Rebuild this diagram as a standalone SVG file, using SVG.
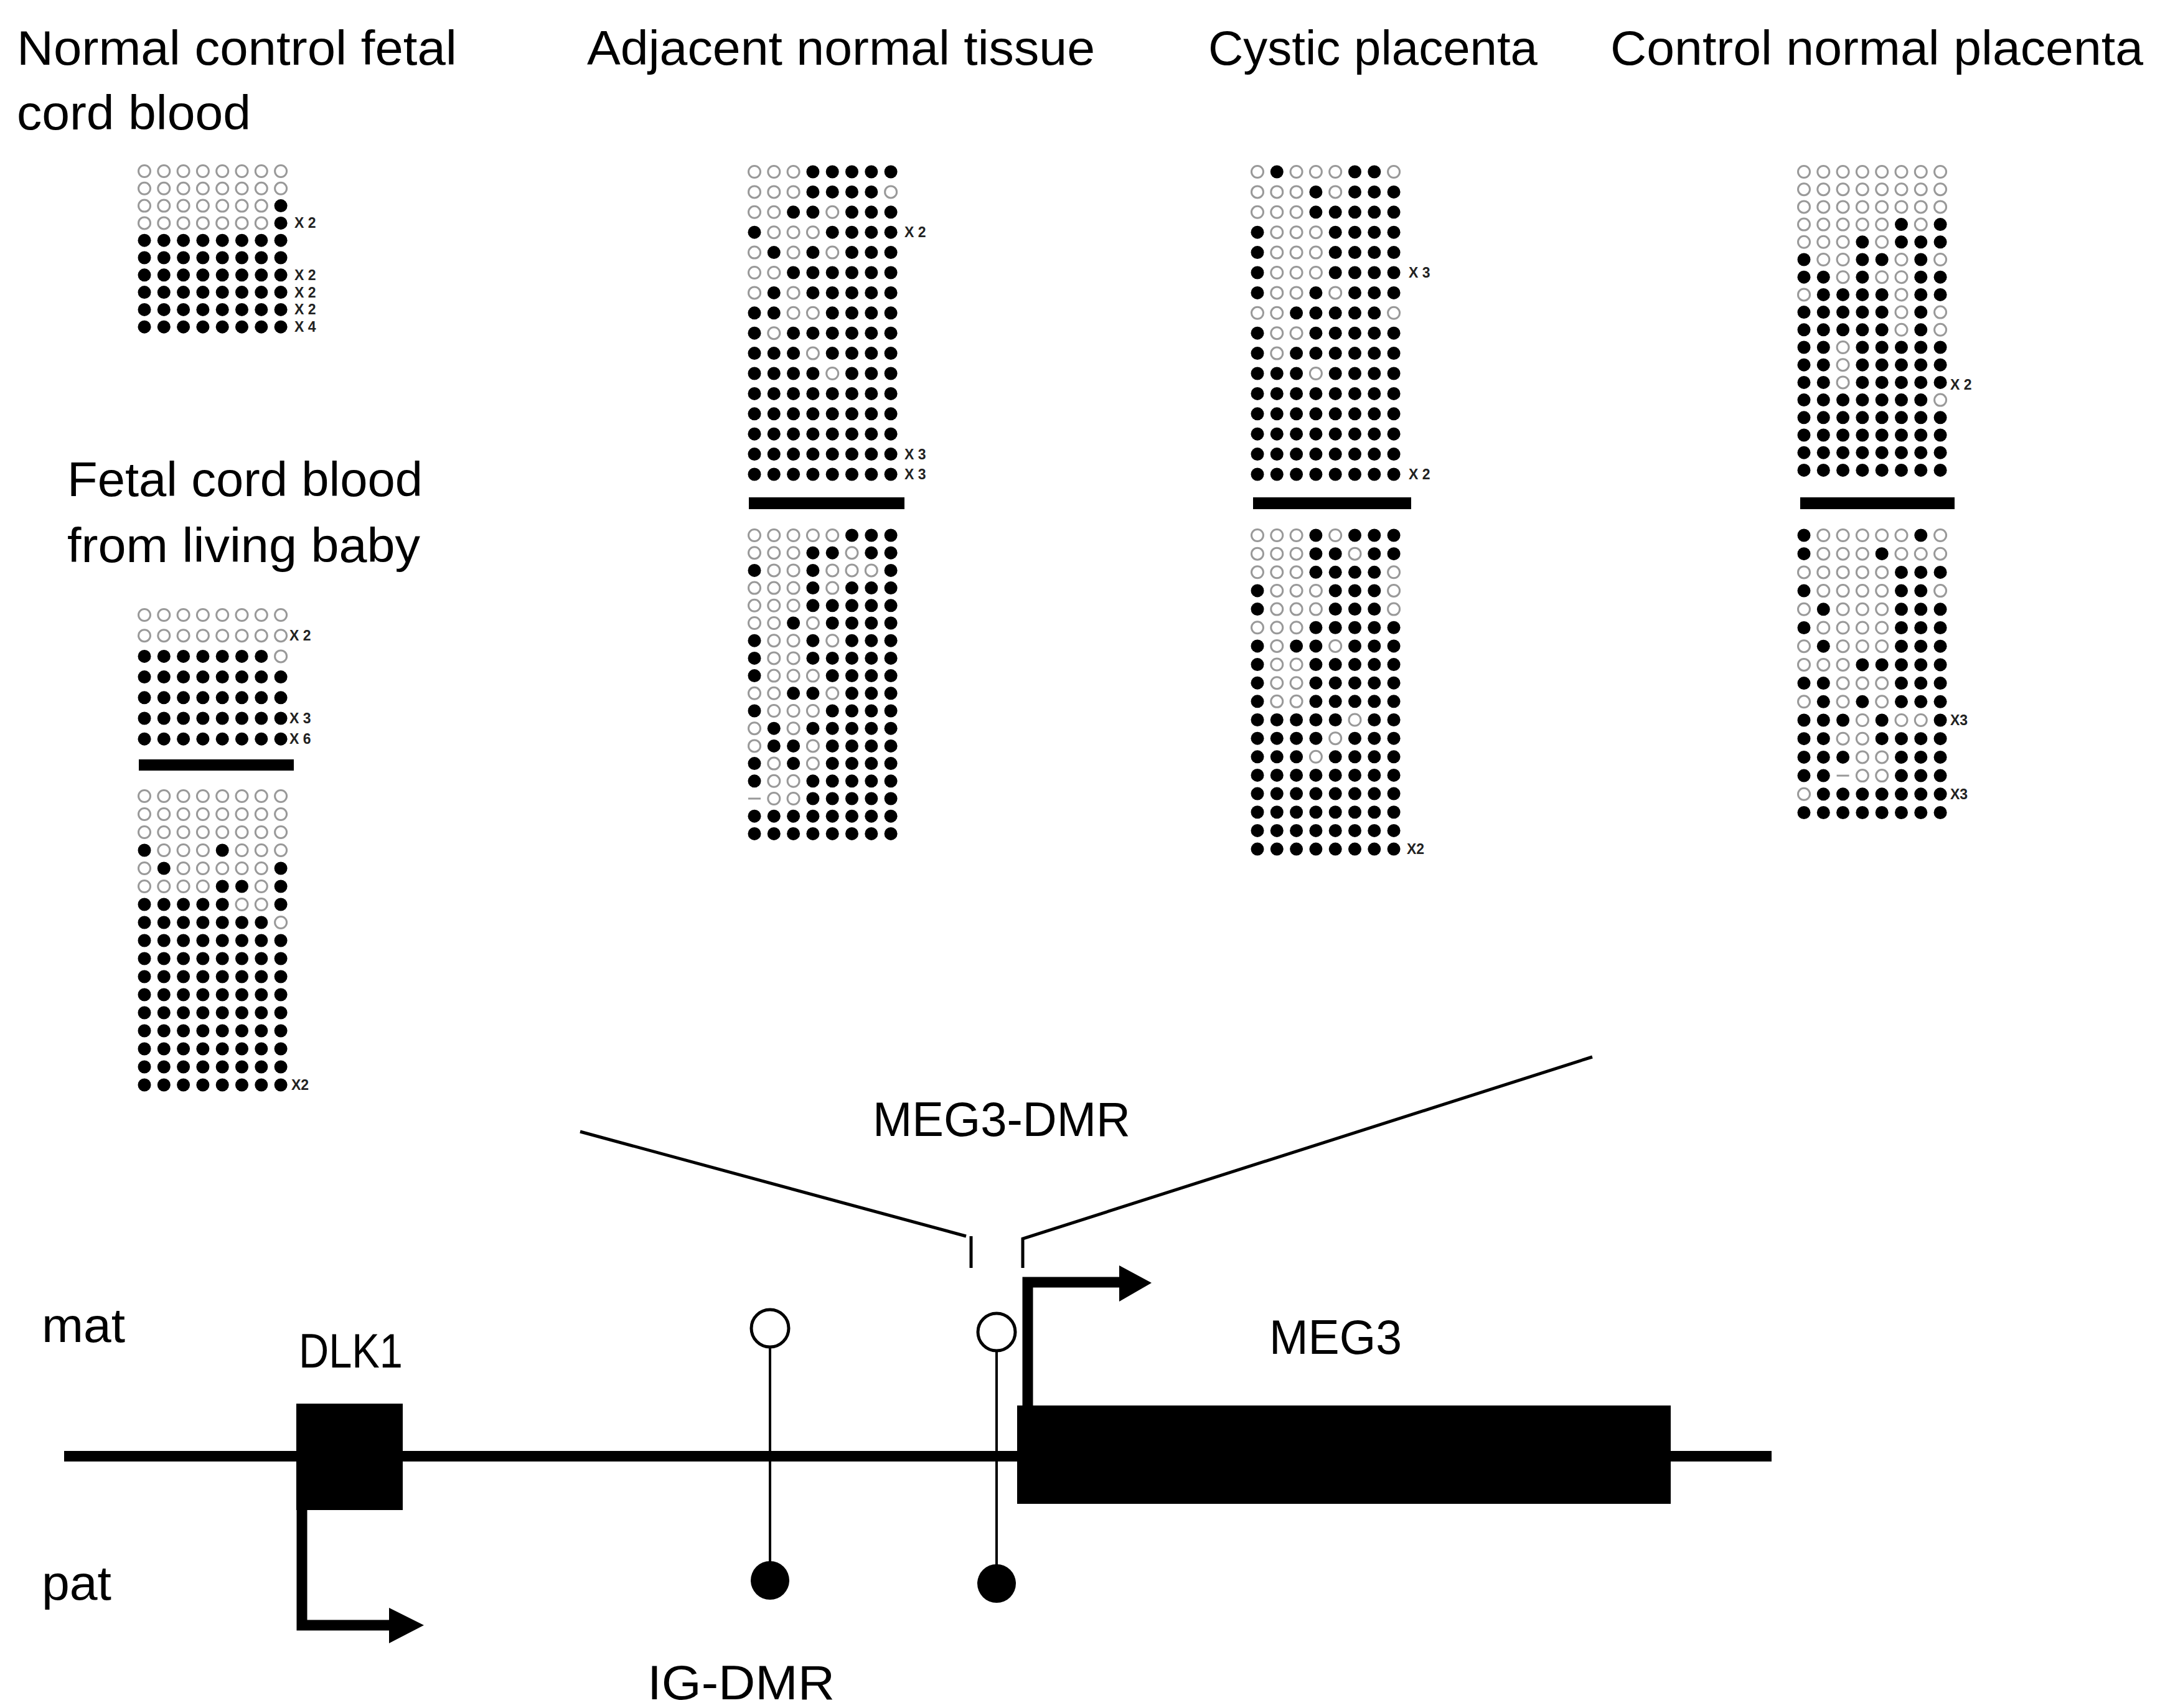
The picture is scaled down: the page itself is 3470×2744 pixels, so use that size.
<svg xmlns="http://www.w3.org/2000/svg" xmlns:xlink="http://www.w3.org/1999/xlink" width="3470" height="2744" viewBox="0 0 3470 2744">
<style>
.t{font-family:"Liberation Sans",Arial,sans-serif;font-size:78px;fill:#000}
.x{font-family:"Liberation Sans",Arial,sans-serif;font-size:23px;font-weight:bold;fill:#222}
.ln{stroke:#000;fill:none}
.d{stroke:#999;stroke-width:3}
</style>
<defs>
<circle id="f" r="10.5" fill="#000"/>
<circle id="o" r="9.5" fill="#fff" stroke="#999" stroke-width="3"/>
<use id="f0" href="#f" x="0"/><use id="f1" href="#f" x="31.3"/><use id="f2" href="#f" x="62.6"/><use id="f3" href="#f" x="93.9"/><use id="f4" href="#f" x="125.2"/><use id="f5" href="#f" x="156.5"/><use id="f6" href="#f" x="187.8"/><use id="f7" href="#f" x="219.1"/>
<use id="o0" href="#o" x="0"/><use id="o1" href="#o" x="31.3"/><use id="o2" href="#o" x="62.6"/><use id="o3" href="#o" x="93.9"/><use id="o4" href="#o" x="125.2"/><use id="o5" href="#o" x="156.5"/><use id="o6" href="#o" x="187.8"/><use id="o7" href="#o" x="219.1"/>
<g id="F"><use href="#f0"/><use href="#f1"/><use href="#f2"/><use href="#f3"/><use href="#f4"/><use href="#f5"/><use href="#f6"/><use href="#f7"/></g>
<g id="O"><use href="#o0"/><use href="#o1"/><use href="#o2"/><use href="#o3"/><use href="#o4"/><use href="#o5"/><use href="#o6"/><use href="#o7"/></g>
</defs>
<rect width="3470" height="2744" fill="#fff"/>

<g id="titles">
<text class="t" x="27" y="104" textLength="707" lengthAdjust="spacingAndGlyphs">Normal control fetal</text>
<text class="t" x="27" y="208" textLength="376" lengthAdjust="spacingAndGlyphs">cord blood</text>
<text class="t" x="943" y="104" textLength="816" lengthAdjust="spacingAndGlyphs">Adjacent normal tissue</text>
<text class="t" x="1941" y="104" textLength="529" lengthAdjust="spacingAndGlyphs">Cystic placenta</text>
<text class="t" x="2587" y="104" textLength="856" lengthAdjust="spacingAndGlyphs">Control normal placenta</text>
<text class="t" x="108" y="797" textLength="571" lengthAdjust="spacingAndGlyphs">Fetal cord blood</text>
<text class="t" x="108" y="903" textLength="567" lengthAdjust="spacingAndGlyphs">from living baby</text>
</g>

<g id="block-normal-control">
<use href="#O" x="232" y="275"/><use href="#O" x="232" y="302.8"/>
<g transform="translate(232,330.6)"><use href="#o0"/><use href="#o1"/><use href="#o2"/><use href="#o3"/><use href="#o4"/><use href="#o5"/><use href="#o6"/><use href="#f7"/></g>
<g transform="translate(232,358.4)"><use href="#o0"/><use href="#o1"/><use href="#o2"/><use href="#o3"/><use href="#o4"/><use href="#o5"/><use href="#o6"/><use href="#f7"/></g>
<use href="#F" x="232" y="386.2"/><use href="#F" x="232" y="414"/><use href="#F" x="232" y="441.8"/><use href="#F" x="232" y="469.6"/><use href="#F" x="232" y="497.4"/><use href="#F" x="232" y="525.2"/>
<text class="x" x="473" y="366.4">X 2</text><text class="x" x="473" y="449.8">X 2</text><text class="x" x="473" y="477.6">X 2</text><text class="x" x="473" y="505.4">X 2</text><text class="x" x="473" y="533.2">X 4</text>
</g>

<g id="block-living-baby">
<use href="#O" x="232" y="988"/><use href="#O" x="232" y="1021.2"/>
<g transform="translate(232,1054.4)"><use href="#f0"/><use href="#f1"/><use href="#f2"/><use href="#f3"/><use href="#f4"/><use href="#f5"/><use href="#f6"/><use href="#o7"/></g>
<use href="#F" x="232" y="1087.6"/><use href="#F" x="232" y="1120.8"/><use href="#F" x="232" y="1154"/><use href="#F" x="232" y="1187.2"/>
<text class="x" x="465" y="1029.2">X 2</text><text class="x" x="465" y="1162">X 3</text><text class="x" x="465" y="1195.2">X 6</text>
<rect x="223" y="1220" width="249" height="18" fill="#000"/>
<use href="#O" x="232" y="1279"/><use href="#O" x="232" y="1308"/><use href="#O" x="232" y="1337"/>
<g transform="translate(232,1366)"><use href="#f0"/><use href="#o1"/><use href="#o2"/><use href="#o3"/><use href="#f4"/><use href="#o5"/><use href="#o6"/><use href="#o7"/></g>
<g transform="translate(232,1395)"><use href="#o0"/><use href="#f1"/><use href="#o2"/><use href="#o3"/><use href="#o4"/><use href="#o5"/><use href="#o6"/><use href="#f7"/></g>
<g transform="translate(232,1424)"><use href="#o0"/><use href="#o1"/><use href="#o2"/><use href="#o3"/><use href="#f4"/><use href="#f5"/><use href="#o6"/><use href="#f7"/></g>
<g transform="translate(232,1453)"><use href="#f0"/><use href="#f1"/><use href="#f2"/><use href="#f3"/><use href="#f4"/><use href="#o5"/><use href="#o6"/><use href="#f7"/></g>
<g transform="translate(232,1482)"><use href="#f0"/><use href="#f1"/><use href="#f2"/><use href="#f3"/><use href="#f4"/><use href="#f5"/><use href="#f6"/><use href="#o7"/></g>
<use href="#F" x="232" y="1511"/><use href="#F" x="232" y="1540"/><use href="#F" x="232" y="1569"/><use href="#F" x="232" y="1598"/><use href="#F" x="232" y="1627"/><use href="#F" x="232" y="1656"/><use href="#F" x="232" y="1685"/><use href="#F" x="232" y="1714"/><use href="#F" x="232" y="1743"/>
<text class="x" x="468" y="1751">X2</text>
</g>

<g id="block-adjacent">
<g transform="translate(1212,276)"><use href="#o0"/><use href="#o1"/><use href="#o2"/><use href="#f3"/><use href="#f4"/><use href="#f5"/><use href="#f6"/><use href="#f7"/></g>
<g transform="translate(1212,308.4)"><use href="#o0"/><use href="#o1"/><use href="#o2"/><use href="#f3"/><use href="#f4"/><use href="#f5"/><use href="#f6"/><use href="#o7"/></g>
<g transform="translate(1212,340.8)"><use href="#o0"/><use href="#o1"/><use href="#f2"/><use href="#f3"/><use href="#o4"/><use href="#f5"/><use href="#f6"/><use href="#f7"/></g>
<g transform="translate(1212,373.2)"><use href="#f0"/><use href="#o1"/><use href="#o2"/><use href="#o3"/><use href="#f4"/><use href="#f5"/><use href="#f6"/><use href="#f7"/></g>
<g transform="translate(1212,405.6)"><use href="#o0"/><use href="#f1"/><use href="#o2"/><use href="#f3"/><use href="#o4"/><use href="#f5"/><use href="#f6"/><use href="#f7"/></g>
<g transform="translate(1212,438)"><use href="#o0"/><use href="#o1"/><use href="#f2"/><use href="#f3"/><use href="#f4"/><use href="#f5"/><use href="#f6"/><use href="#f7"/></g>
<g transform="translate(1212,470.4)"><use href="#o0"/><use href="#f1"/><use href="#o2"/><use href="#f3"/><use href="#f4"/><use href="#f5"/><use href="#f6"/><use href="#f7"/></g>
<g transform="translate(1212,502.8)"><use href="#f0"/><use href="#f1"/><use href="#o2"/><use href="#o3"/><use href="#f4"/><use href="#f5"/><use href="#f6"/><use href="#f7"/></g>
<g transform="translate(1212,535.2)"><use href="#f0"/><use href="#o1"/><use href="#f2"/><use href="#f3"/><use href="#f4"/><use href="#f5"/><use href="#f6"/><use href="#f7"/></g>
<g transform="translate(1212,567.6)"><use href="#f0"/><use href="#f1"/><use href="#f2"/><use href="#o3"/><use href="#f4"/><use href="#f5"/><use href="#f6"/><use href="#f7"/></g>
<g transform="translate(1212,600)"><use href="#f0"/><use href="#f1"/><use href="#f2"/><use href="#f3"/><use href="#o4"/><use href="#f5"/><use href="#f6"/><use href="#f7"/></g>
<use href="#F" x="1212" y="632.4"/><use href="#F" x="1212" y="664.8"/><use href="#F" x="1212" y="697.2"/><use href="#F" x="1212" y="729.6"/><use href="#F" x="1212" y="762"/>
<text class="x" x="1453" y="381.2">X 2</text><text class="x" x="1453" y="737.6">X 3</text><text class="x" x="1453" y="770">X 3</text>
<rect x="1203" y="799" width="250" height="19" fill="#000"/>
<g transform="translate(1212,860)"><use href="#o0"/><use href="#o1"/><use href="#o2"/><use href="#o3"/><use href="#o4"/><use href="#f5"/><use href="#f6"/><use href="#f7"/></g>
<g transform="translate(1212,888.2)"><use href="#o0"/><use href="#o1"/><use href="#o2"/><use href="#f3"/><use href="#f4"/><use href="#o5"/><use href="#f6"/><use href="#f7"/></g>
<g transform="translate(1212,916.4)"><use href="#f0"/><use href="#o1"/><use href="#o2"/><use href="#f3"/><use href="#o4"/><use href="#o5"/><use href="#o6"/><use href="#f7"/></g>
<g transform="translate(1212,944.6)"><use href="#o0"/><use href="#o1"/><use href="#o2"/><use href="#f3"/><use href="#o4"/><use href="#f5"/><use href="#f6"/><use href="#f7"/></g>
<g transform="translate(1212,972.8)"><use href="#o0"/><use href="#o1"/><use href="#o2"/><use href="#f3"/><use href="#f4"/><use href="#f5"/><use href="#f6"/><use href="#f7"/></g>
<g transform="translate(1212,1001)"><use href="#o0"/><use href="#o1"/><use href="#f2"/><use href="#o3"/><use href="#f4"/><use href="#f5"/><use href="#f6"/><use href="#f7"/></g>
<g transform="translate(1212,1029.2)"><use href="#f0"/><use href="#o1"/><use href="#o2"/><use href="#f3"/><use href="#o4"/><use href="#f5"/><use href="#f6"/><use href="#f7"/></g>
<g transform="translate(1212,1057.4)"><use href="#f0"/><use href="#o1"/><use href="#o2"/><use href="#f3"/><use href="#f4"/><use href="#f5"/><use href="#f6"/><use href="#f7"/></g>
<g transform="translate(1212,1085.6)"><use href="#f0"/><use href="#o1"/><use href="#o2"/><use href="#o3"/><use href="#f4"/><use href="#f5"/><use href="#f6"/><use href="#f7"/></g>
<g transform="translate(1212,1113.8)"><use href="#o0"/><use href="#o1"/><use href="#f2"/><use href="#f3"/><use href="#o4"/><use href="#f5"/><use href="#f6"/><use href="#f7"/></g>
<g transform="translate(1212,1142)"><use href="#f0"/><use href="#o1"/><use href="#o2"/><use href="#o3"/><use href="#f4"/><use href="#f5"/><use href="#f6"/><use href="#f7"/></g>
<g transform="translate(1212,1170.2)"><use href="#o0"/><use href="#f1"/><use href="#o2"/><use href="#f3"/><use href="#f4"/><use href="#f5"/><use href="#f6"/><use href="#f7"/></g>
<g transform="translate(1212,1198.4)"><use href="#o0"/><use href="#f1"/><use href="#f2"/><use href="#o3"/><use href="#f4"/><use href="#f5"/><use href="#f6"/><use href="#f7"/></g>
<g transform="translate(1212,1226.6)"><use href="#f0"/><use href="#o1"/><use href="#f2"/><use href="#o3"/><use href="#f4"/><use href="#f5"/><use href="#f6"/><use href="#f7"/></g>
<g transform="translate(1212,1254.8)"><use href="#f0"/><use href="#o1"/><use href="#o2"/><use href="#f3"/><use href="#f4"/><use href="#f5"/><use href="#f6"/><use href="#f7"/></g>
<g transform="translate(1212,1283)"><line class="d" x1="-10" y1="0" x2="10" y2="0"/><use href="#o1"/><use href="#o2"/><use href="#f3"/><use href="#f4"/><use href="#f5"/><use href="#f6"/><use href="#f7"/></g>
<use href="#F" x="1212" y="1311.2"/><use href="#F" x="1212" y="1339.4"/>
</g>

<g id="block-cystic">
<g transform="translate(2020,276)"><use href="#o0"/><use href="#f1"/><use href="#o2"/><use href="#o3"/><use href="#o4"/><use href="#f5"/><use href="#f6"/><use href="#o7"/></g>
<g transform="translate(2020,308.4)"><use href="#o0"/><use href="#o1"/><use href="#o2"/><use href="#f3"/><use href="#o4"/><use href="#f5"/><use href="#f6"/><use href="#f7"/></g>
<g transform="translate(2020,340.8)"><use href="#o0"/><use href="#o1"/><use href="#o2"/><use href="#f3"/><use href="#f4"/><use href="#f5"/><use href="#f6"/><use href="#f7"/></g>
<g transform="translate(2020,373.2)"><use href="#f0"/><use href="#o1"/><use href="#o2"/><use href="#o3"/><use href="#f4"/><use href="#f5"/><use href="#f6"/><use href="#f7"/></g>
<g transform="translate(2020,405.6)"><use href="#f0"/><use href="#o1"/><use href="#o2"/><use href="#o3"/><use href="#f4"/><use href="#f5"/><use href="#f6"/><use href="#f7"/></g>
<g transform="translate(2020,438)"><use href="#f0"/><use href="#o1"/><use href="#o2"/><use href="#o3"/><use href="#f4"/><use href="#f5"/><use href="#f6"/><use href="#f7"/></g>
<g transform="translate(2020,470.4)"><use href="#f0"/><use href="#o1"/><use href="#o2"/><use href="#f3"/><use href="#o4"/><use href="#f5"/><use href="#f6"/><use href="#f7"/></g>
<g transform="translate(2020,502.8)"><use href="#o0"/><use href="#o1"/><use href="#f2"/><use href="#f3"/><use href="#f4"/><use href="#f5"/><use href="#f6"/><use href="#o7"/></g>
<g transform="translate(2020,535.2)"><use href="#f0"/><use href="#o1"/><use href="#o2"/><use href="#f3"/><use href="#f4"/><use href="#f5"/><use href="#f6"/><use href="#f7"/></g>
<g transform="translate(2020,567.6)"><use href="#f0"/><use href="#o1"/><use href="#f2"/><use href="#f3"/><use href="#f4"/><use href="#f5"/><use href="#f6"/><use href="#f7"/></g>
<g transform="translate(2020,600)"><use href="#f0"/><use href="#f1"/><use href="#f2"/><use href="#o3"/><use href="#f4"/><use href="#f5"/><use href="#f6"/><use href="#f7"/></g>
<use href="#F" x="2020" y="632.4"/><use href="#F" x="2020" y="664.8"/><use href="#F" x="2020" y="697.2"/><use href="#F" x="2020" y="729.6"/><use href="#F" x="2020" y="762"/>
<text class="x" x="2263" y="446">X 3</text><text class="x" x="2263" y="770">X 2</text>
<rect x="2013" y="799" width="254" height="19" fill="#000"/>
<g transform="translate(2020,860)"><use href="#o0"/><use href="#o1"/><use href="#o2"/><use href="#f3"/><use href="#o4"/><use href="#f5"/><use href="#f6"/><use href="#f7"/></g>
<g transform="translate(2020,889.65)"><use href="#o0"/><use href="#o1"/><use href="#o2"/><use href="#f3"/><use href="#f4"/><use href="#o5"/><use href="#f6"/><use href="#f7"/></g>
<g transform="translate(2020,919.3)"><use href="#o0"/><use href="#o1"/><use href="#o2"/><use href="#f3"/><use href="#f4"/><use href="#f5"/><use href="#f6"/><use href="#o7"/></g>
<g transform="translate(2020,948.95)"><use href="#f0"/><use href="#o1"/><use href="#o2"/><use href="#o3"/><use href="#f4"/><use href="#f5"/><use href="#f6"/><use href="#o7"/></g>
<g transform="translate(2020,978.6)"><use href="#f0"/><use href="#o1"/><use href="#o2"/><use href="#o3"/><use href="#f4"/><use href="#f5"/><use href="#f6"/><use href="#o7"/></g>
<g transform="translate(2020,1008.25)"><use href="#o0"/><use href="#o1"/><use href="#o2"/><use href="#f3"/><use href="#f4"/><use href="#f5"/><use href="#f6"/><use href="#f7"/></g>
<g transform="translate(2020,1037.9)"><use href="#f0"/><use href="#o1"/><use href="#f2"/><use href="#f3"/><use href="#o4"/><use href="#f5"/><use href="#f6"/><use href="#f7"/></g>
<g transform="translate(2020,1067.55)"><use href="#f0"/><use href="#o1"/><use href="#o2"/><use href="#f3"/><use href="#f4"/><use href="#f5"/><use href="#f6"/><use href="#f7"/></g>
<g transform="translate(2020,1097.2)"><use href="#f0"/><use href="#o1"/><use href="#o2"/><use href="#f3"/><use href="#f4"/><use href="#f5"/><use href="#f6"/><use href="#f7"/></g>
<g transform="translate(2020,1126.85)"><use href="#f0"/><use href="#o1"/><use href="#o2"/><use href="#f3"/><use href="#f4"/><use href="#f5"/><use href="#f6"/><use href="#f7"/></g>
<g transform="translate(2020,1156.5)"><use href="#f0"/><use href="#f1"/><use href="#f2"/><use href="#f3"/><use href="#f4"/><use href="#o5"/><use href="#f6"/><use href="#f7"/></g>
<g transform="translate(2020,1186.15)"><use href="#f0"/><use href="#f1"/><use href="#f2"/><use href="#f3"/><use href="#o4"/><use href="#f5"/><use href="#f6"/><use href="#f7"/></g>
<g transform="translate(2020,1215.8)"><use href="#f0"/><use href="#f1"/><use href="#f2"/><use href="#o3"/><use href="#f4"/><use href="#f5"/><use href="#f6"/><use href="#f7"/></g>
<use href="#F" x="2020" y="1245.45"/><use href="#F" x="2020" y="1275.1"/><use href="#F" x="2020" y="1304.75"/><use href="#F" x="2020" y="1334.4"/><use href="#F" x="2020" y="1364.05"/>
<text class="x" x="2260" y="1372">X2</text>
</g>

<g id="block-control">
<use href="#O" x="2898" y="276"/><use href="#O" x="2898" y="304.2"/><use href="#O" x="2898" y="332.4"/>
<g transform="translate(2898,360.6)"><use href="#o0"/><use href="#o1"/><use href="#o2"/><use href="#o3"/><use href="#o4"/><use href="#f5"/><use href="#o6"/><use href="#f7"/></g>
<g transform="translate(2898,388.8)"><use href="#o0"/><use href="#o1"/><use href="#o2"/><use href="#f3"/><use href="#o4"/><use href="#f5"/><use href="#f6"/><use href="#f7"/></g>
<g transform="translate(2898,417)"><use href="#f0"/><use href="#o1"/><use href="#o2"/><use href="#f3"/><use href="#f4"/><use href="#o5"/><use href="#f6"/><use href="#o7"/></g>
<g transform="translate(2898,445.2)"><use href="#f0"/><use href="#f1"/><use href="#o2"/><use href="#f3"/><use href="#o4"/><use href="#o5"/><use href="#f6"/><use href="#f7"/></g>
<g transform="translate(2898,473.4)"><use href="#o0"/><use href="#f1"/><use href="#f2"/><use href="#f3"/><use href="#f4"/><use href="#o5"/><use href="#f6"/><use href="#f7"/></g>
<g transform="translate(2898,501.6)"><use href="#f0"/><use href="#f1"/><use href="#f2"/><use href="#f3"/><use href="#f4"/><use href="#o5"/><use href="#f6"/><use href="#o7"/></g>
<g transform="translate(2898,529.8)"><use href="#f0"/><use href="#f1"/><use href="#f2"/><use href="#f3"/><use href="#f4"/><use href="#o5"/><use href="#f6"/><use href="#o7"/></g>
<g transform="translate(2898,558)"><use href="#f0"/><use href="#f1"/><use href="#o2"/><use href="#f3"/><use href="#f4"/><use href="#f5"/><use href="#f6"/><use href="#f7"/></g>
<g transform="translate(2898,586.2)"><use href="#f0"/><use href="#f1"/><use href="#o2"/><use href="#f3"/><use href="#f4"/><use href="#f5"/><use href="#f6"/><use href="#f7"/></g>
<g transform="translate(2898,614.4)"><use href="#f0"/><use href="#f1"/><use href="#o2"/><use href="#f3"/><use href="#f4"/><use href="#f5"/><use href="#f6"/><use href="#f7"/></g>
<g transform="translate(2898,642.6)"><use href="#f0"/><use href="#f1"/><use href="#f2"/><use href="#f3"/><use href="#f4"/><use href="#f5"/><use href="#f6"/><use href="#o7"/></g>
<use href="#F" x="2898" y="670.8"/><use href="#F" x="2898" y="699"/><use href="#F" x="2898" y="727.2"/><use href="#F" x="2898" y="755.4"/>
<text class="x" x="3133" y="626">X 2</text>
<rect x="2892" y="799" width="248" height="19" fill="#000"/>
<g transform="translate(2898,860)"><use href="#f0"/><use href="#o1"/><use href="#o2"/><use href="#o3"/><use href="#o4"/><use href="#o5"/><use href="#f6"/><use href="#o7"/></g>
<g transform="translate(2898,889.7)"><use href="#f0"/><use href="#o1"/><use href="#o2"/><use href="#o3"/><use href="#f4"/><use href="#o5"/><use href="#o6"/><use href="#o7"/></g>
<g transform="translate(2898,919.4)"><use href="#o0"/><use href="#o1"/><use href="#o2"/><use href="#o3"/><use href="#o4"/><use href="#f5"/><use href="#f6"/><use href="#f7"/></g>
<g transform="translate(2898,949.1)"><use href="#f0"/><use href="#o1"/><use href="#o2"/><use href="#o3"/><use href="#o4"/><use href="#f5"/><use href="#f6"/><use href="#o7"/></g>
<g transform="translate(2898,978.8)"><use href="#o0"/><use href="#f1"/><use href="#o2"/><use href="#o3"/><use href="#o4"/><use href="#f5"/><use href="#f6"/><use href="#f7"/></g>
<g transform="translate(2898,1008.5)"><use href="#f0"/><use href="#o1"/><use href="#o2"/><use href="#o3"/><use href="#o4"/><use href="#f5"/><use href="#f6"/><use href="#f7"/></g>
<g transform="translate(2898,1038.2)"><use href="#o0"/><use href="#f1"/><use href="#o2"/><use href="#o3"/><use href="#o4"/><use href="#f5"/><use href="#f6"/><use href="#f7"/></g>
<g transform="translate(2898,1067.9)"><use href="#o0"/><use href="#o1"/><use href="#o2"/><use href="#f3"/><use href="#f4"/><use href="#f5"/><use href="#f6"/><use href="#f7"/></g>
<g transform="translate(2898,1097.6)"><use href="#f0"/><use href="#f1"/><use href="#o2"/><use href="#o3"/><use href="#o4"/><use href="#f5"/><use href="#f6"/><use href="#f7"/></g>
<g transform="translate(2898,1127.3)"><use href="#o0"/><use href="#f1"/><use href="#o2"/><use href="#f3"/><use href="#o4"/><use href="#f5"/><use href="#f6"/><use href="#f7"/></g>
<g transform="translate(2898,1157)"><use href="#f0"/><use href="#f1"/><use href="#f2"/><use href="#o3"/><use href="#f4"/><use href="#o5"/><use href="#o6"/><use href="#f7"/></g>
<g transform="translate(2898,1186.7)"><use href="#f0"/><use href="#f1"/><use href="#o2"/><use href="#o3"/><use href="#f4"/><use href="#f5"/><use href="#f6"/><use href="#f7"/></g>
<g transform="translate(2898,1216.4)"><use href="#f0"/><use href="#f1"/><use href="#f2"/><use href="#o3"/><use href="#o4"/><use href="#f5"/><use href="#f6"/><use href="#f7"/></g>
<g transform="translate(2898,1246.1)"><use href="#f0"/><use href="#f1"/><line class="d" x1="52.6" y1="0" x2="72.6" y2="0"/><use href="#o3"/><use href="#o4"/><use href="#f5"/><use href="#f6"/><use href="#f7"/></g>
<g transform="translate(2898,1275.8)"><use href="#o0"/><use href="#f1"/><use href="#f2"/><use href="#f3"/><use href="#f4"/><use href="#f5"/><use href="#f6"/><use href="#f7"/></g>
<use href="#F" x="2898" y="1305.5"/>
<text class="x" x="3133" y="1165">X3</text><text class="x" x="3133" y="1284">X3</text>
</g>

<g id="genome">
<rect x="103" y="2331" width="2743" height="17" fill="#000"/>
<g id="dlk1"><rect x="476" y="2255" width="171" height="171" fill="#000"/><text class="t" x="480" y="2197" textLength="167" lengthAdjust="spacingAndGlyphs">DLK1</text></g>
<g id="meg3"><rect x="1634" y="2258" width="1050" height="158" fill="#000"/><text class="t" x="2039" y="2175" textLength="213" lengthAdjust="spacingAndGlyphs">MEG3</text></g>
<text class="t" x="67" y="2156" textLength="134" lengthAdjust="spacingAndGlyphs">mat</text>
<text class="t" x="67" y="2570" textLength="112" lengthAdjust="spacingAndGlyphs">pat</text>
<text class="t" x="1402" y="1825" textLength="414" lengthAdjust="spacingAndGlyphs">MEG3-DMR</text>
<text class="t" x="1040" y="2730" textLength="301" lengthAdjust="spacingAndGlyphs">IG-DMR</text>
</g>

<g id="connectors">
<line class="ln" x1="1237" y1="2165" x2="1237" y2="2510" stroke-width="4"/>
<line class="ln" x1="1601" y1="2170" x2="1601" y2="2515" stroke-width="4"/>
<circle cx="1237" cy="2134" r="30" fill="#fff" stroke="#000" stroke-width="5"/>
<circle cx="1601" cy="2140" r="30" fill="#fff" stroke="#000" stroke-width="5"/>
<circle cx="1237" cy="2539" r="31" fill="#000"/>
<circle cx="1601" cy="2544" r="31" fill="#000"/>
<path class="ln" d="M485 2426 V2611 H630" stroke-width="17"/>
<polygon points="625,2583 681,2611 625,2640" fill="#000"/>
<path class="ln" d="M1651 2258 V2060 H1800" stroke-width="17"/>
<polygon points="1798,2033 1850,2061 1798,2091" fill="#000"/>
<line class="ln" x1="932" y1="1818" x2="1552" y2="1986" stroke-width="5"/>
<line class="ln" x1="1560" y1="1986" x2="1560" y2="2037" stroke-width="5"/>
<path class="ln" d="M1643 2037 V1990 L2558 1698" stroke-width="5"/>
</g>
</svg>
